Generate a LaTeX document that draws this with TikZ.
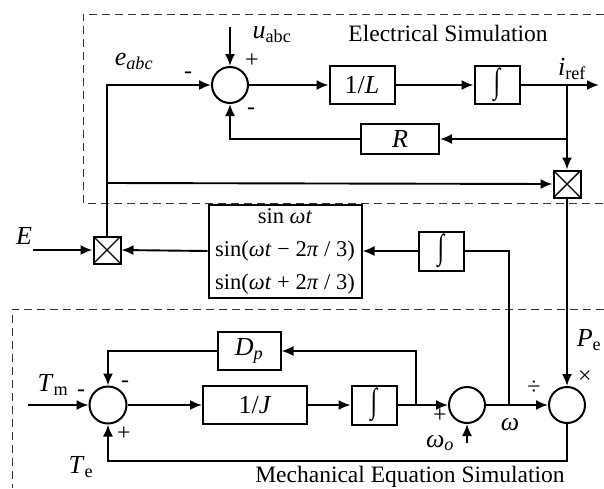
\documentclass[tikz,border=0pt]{standalone}
\usepackage{fontspec}
\setmainfont{Liberation Serif}
\usepackage{tikz}
\usetikzlibrary{arrows.meta,positioning,calc}

\newcommand{\intsym}{{\fontsize{30}{30}\selectfont\scalebox{0.8}[1.15]{∫}}}

\begin{document}
\begin{tikzpicture}[
    x=1pt,y=-1pt,
    >={Latex[length=12pt,width=10pt]},
    every node/.style={font=\fontsize{26}{30}\selectfont,inner sep=0pt},
    blk/.style={rectangle,draw,line width=2pt,inner sep=0pt,
                minimum height=38pt,font=\fontsize{26}{30}\selectfont},
    sumnode/.style={circle,draw,line width=2pt,minimum size=36pt,inner sep=0pt},
    mult/.style={rectangle,draw,line width=2pt,minimum size=27pt,inner sep=0pt,
                 path picture={\draw[line width=1.4pt]
                   (path picture bounding box.south west) -- (path picture bounding box.north east)
                   (path picture bounding box.north west) -- (path picture bounding box.south east);}},
    arr/.style={->,line width=1.9pt},
    wire/.style={line width=1.9pt},
    simframe/.style={line width=1pt,black!80,dash pattern=on 8pt off 5pt},
    sgn/.style={font=\fontsize{24}{26}\selectfont},
    secttl/.style={font=\fontsize{23.5}{26}\selectfont}
  ]
  \useasboundingbox (0,0) rectangle (604,488);
  %% simulation frames
  \draw[simframe] (604,14) -- (83,14) -- (83,203) -- (604,203);
  \draw[simframe] (604,309) -- (12,309) -- (12,488);
  \node[secttl] (ttlE) at (448,33) {Electrical Simulation};
  \node[secttl] (ttlM) at (410,477) {Mechanical Equation Simulation};

  %% electrical part
  \node[sumnode] (sumE) at (230,85) {};
  \node[blk,minimum width=65pt] (invL) at (362,85) {1/\textit{L}};
  \node[blk,minimum width=45pt] (intE) at (497,85) {\intsym};
  \node[blk,minimum width=78pt,minimum height=30pt] (Rblk) at (400,139) {\textit{R}};
  \node[mult] (multR) at (567,184) {};
  \node[mult] (multL) at (107,250) {};
  \node[blk,minimum width=153pt,minimum height=93pt,align=center,
        font=\fontsize{22.5}{33}\selectfont] (sinbox) at (285,251)
        {sin \textit{ωt}\\ sin(\textit{ωt} − 2\textit{π} / 3)\\ sin(\textit{ωt} + 2\textit{π} / 3)};
  \node[blk,minimum width=45pt,minimum height=39pt] (intW) at (441,251) {\intsym};

  \coordinate (uIn) at (230,27);
  \coordinate (iOut) at (599,85);
  \coordinate (bI) at (567,85);
  \coordinate (bR) at (567,139);
  \coordinate (bE) at (107,183);
  \coordinate (eIn) at (33,250);

  \draw[arr] (uIn) -- (sumE.north);
  \draw[arr] (sumE.east) -- (invL.west);
  \draw[arr] (invL.east) -- (intE.west);
  \draw[arr] (intE.east) -- (iOut);
  \draw[arr] (bI) -- (multR.north);
  \draw[arr] (bR) -- (Rblk.east);
  \draw[arr] (Rblk.west) -| (sumE.south);
  \draw[arr] (multL.north) |- (sumE.west);
  \draw[arr] (bE) -- (multR.west);
  \draw[arr] (eIn) -- (multL.west);
  \draw[arr] (sinbox.west) -- (multL.east);
  \draw[arr] (intW.west) -- (sinbox.east |- intW.west);

  \node (uLbl) at (272,35) {\textit{u}\textsubscript{abc}};
  \node[sgn] (pU) at (252,61) {+};
  \node (eLbl) at (134,61) {\textit{e}\textsubscript{\textit{abc}}};
  \node[sgn] (mE) at (188,75) {-};
  \node[sgn] (mR) at (251,111) {-};
  \node (iLbl) at (572,69) {\textit{i}\textsubscript{ref}};
  \node (ELbl) at (24,236) {\textit{E}};

  %% mechanical part
  \node[sumnode,minimum size=37pt] (sumT) at (108,405) {};
  \node[blk,minimum width=104pt] (invJ) at (255,405) {1/\textit{J}};
  \node[blk,minimum width=45pt,minimum height=39pt] (intM) at (374,405) {\intsym};
  \node[blk,minimum width=63pt] (Dp) at (249,351) {\textit{D}\textsubscript{\textit{p}}};
  \node[sumnode] (sumW) at (467,405) {};
  \node[sumnode] (sumP) at (567,405) {};

  \coordinate (tIn) at (28,405);
  \coordinate (bD) at (416,405);
  \coordinate (bW) at (509,405);
  \coordinate (wIn) at (467,443);

  \draw[arr] (tIn) -- (sumT.west);
  \draw[arr] (sumT.east) -- (invJ.west);
  \draw[arr] (invJ.east) -- (intM.west);
  \draw[arr] (intM.east) -- (sumW.west);
  \draw[arr] (bD) |- (Dp.east);
  \draw[arr] (Dp.west) -| (sumT.north);
  \draw[arr] (wIn) -- (sumW.south);
  \draw[arr] (sumW.east) -- (sumP.west);
  \draw[wire] (bW) |- (intW.east);
  \draw[arr] (multR.south) -- (sumP.north);
  \draw[arr] (sumP.south) -- ++(0,37) -| (sumT.south);

  \node (TmLbl) at (53,385) {\textit{T}\textsubscript{m}};
  \node[sgn] (mTm) at (81,393) {-};
  \node[sgn] (mDp) at (125,384) {-};
  \node[sgn] (pTe) at (124,434) {+};
  \node (TeLbl) at (81,467) {\textit{T}\textsubscript{e}};
  \node (PLbl) at (589,340) {\textit{P}\textsubscript{e}};
  \node[sgn] (xP) at (585,377) {×};
  \node[sgn] (dW) at (534,388) {÷};
  \node (wLbl) at (510,425) {\textit{ω}};
  \node (woLbl) at (440,443) {\textit{ω}\textsubscript{\textit{o}}};
  \node[sgn] (pW) at (440,416) {+};
\end{tikzpicture}
\end{document}
